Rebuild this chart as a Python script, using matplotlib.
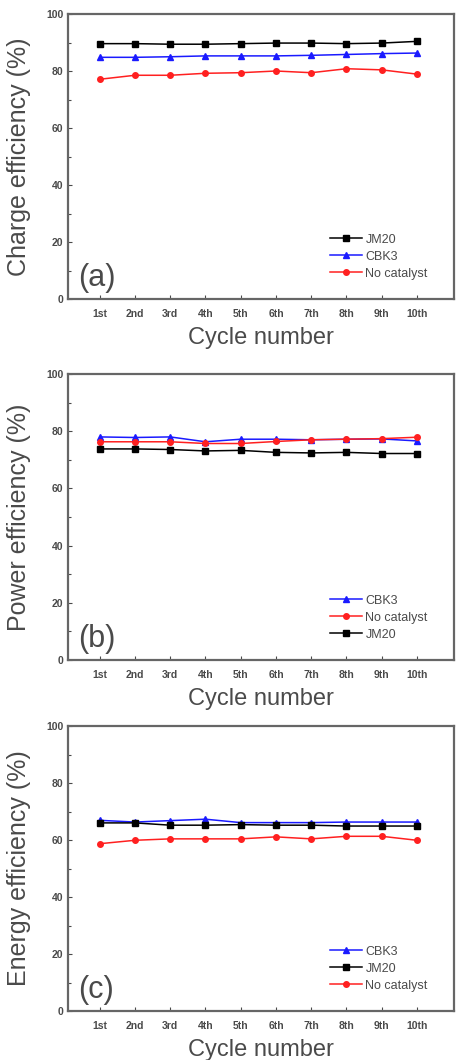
import numpy as np
import matplotlib
matplotlib.use("Agg")
import matplotlib.pyplot as plt

plt.rcParams["font.family"] = ["Liberation Sans", "DejaVu Sans"]

# Cycle labels
cycles = ["1st", "2nd", "3rd", "4th", "5th", "6th", "7th", "8th", "9th", "10th"]

# (a) Charge efficiency
charge_jm20 = [89.6, 89.6, 89.4, 89.4, 89.6, 89.8, 89.8, 89.6, 89.8, 90.4]
charge_cbk3 = [84.8, 84.8, 85.0, 85.3, 85.3, 85.3, 85.5, 85.8, 86.1, 86.3]
charge_none = [77.1, 78.5, 78.5, 79.2, 79.4, 80.0, 79.4, 80.8, 80.4, 78.9]

# (b) Power efficiency
power_cbk3 = [78.0, 77.8, 78.0, 76.3, 77.2, 77.2, 77.0, 77.2, 77.3, 76.6]
power_none = [76.3, 76.3, 76.3, 75.7, 75.7, 76.4, 77.0, 77.2, 77.4, 77.9]
power_jm20 = [73.8, 73.8, 73.6, 73.1, 73.3, 72.6, 72.4, 72.6, 72.2, 72.2]

# (c) Energy efficiency
energy_cbk3 = [66.9, 66.3, 66.8, 67.3, 66.1, 66.1, 66.1, 66.3, 66.3, 66.3]
energy_jm20 = [66.0, 66.0, 65.2, 65.2, 65.4, 65.2, 65.2, 64.9, 64.9, 64.9]
energy_none = [58.7, 59.9, 60.4, 60.4, 60.4, 61.1, 60.4, 61.3, 61.3, 59.9]

styles = {
    "JM20": dict(color="black", marker="s"),
    "CBK3": dict(color="#1a1aff", marker="^"),
    "No catalyst": dict(color="#ff2020", marker="o"),
}

text_color = "#4a4a4a"
W, H = 467, 1060
fig = plt.figure(figsize=(W / 100, H / 100), dpi=100)

panels = [
    ("Charge efficiency (%)", "(a)", 14, 299,
     [("JM20", charge_jm20), ("CBK3", charge_cbk3), ("No catalyst", charge_none)]),
    ("Power efficiency (%)", "(b)", 374, 660,
     [("CBK3", power_cbk3), ("No catalyst", power_none), ("JM20", power_jm20)]),
    ("Energy efficiency (%)", "(c)", 726, 1011,
     [("CBK3", energy_cbk3), ("JM20", energy_jm20), ("No catalyst", energy_none)]),
]

x = np.arange(1, len(cycles) + 1)
for ylabel, tag, top, bottom, series in panels:
    left, right = 68, 454
    ax = fig.add_axes([left / W, 1 - bottom / H, (right - left) / W, (bottom - top) / H])
    for name, vals in series:
        st = styles[name]
        ax.plot(x, vals, color=st["color"], marker=st["marker"], markersize=4,
                linewidth=1.1, label=name)
    ax.set_xlim(0.1, 11.05)
    ax.set_ylim(0, 100)
    ax.set_xticks(x)
    ax.set_xticklabels(cycles)
    ax.set_yticks(np.arange(0, 101, 20))
    ax.set_yticks(np.arange(10, 100, 20), minor=True)
    ax.tick_params(axis="both", which="both", direction="in", labelsize=7.5,
                   colors=text_color, length=3, width=0.8)
    ax.tick_params(axis="x", pad=7)
    ax.tick_params(axis="both", which="minor", length=2)
    for t in ax.get_xticklabels() + ax.get_yticklabels():
        t.set_fontweight("bold")
    for s in ax.spines.values():
        s.set_linewidth(1.6)
        s.set_color("#666666")
    ax.set_ylabel(ylabel, fontsize=18, color=text_color, va="center")
    ax.yaxis.set_label_coords(-49 / 386, 0.5)
    ax.set_xlabel("Cycle number", fontsize=17, color=text_color, labelpad=6)
    ax.text(0.025, 0.02, tag, transform=ax.transAxes, fontsize=22,
            color=text_color, ha="left", va="bottom")
    leg = ax.legend(loc="lower right", bbox_to_anchor=(0.945, 0.05), frameon=False,
                    fontsize=9, handlelength=2.5, handletextpad=0.3,
                    labelspacing=0.4, borderaxespad=0)
    for t in leg.get_texts():
        t.set_color(text_color)

fig.savefig("out.png", dpi=100)
